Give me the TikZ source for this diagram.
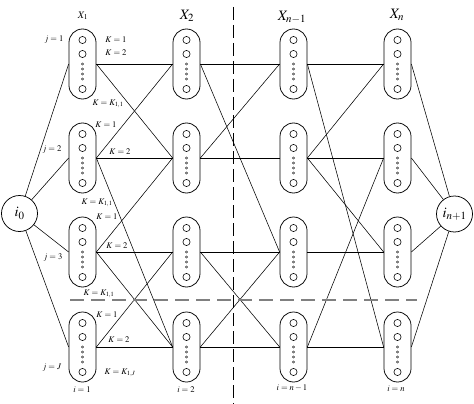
\documentclass[tikz,border=0pt]{standalone}
\usepackage{mathptmx}
\usepackage{tikz}

\begin{document}
\begin{tikzpicture}[x=1pt,y=-1pt,
 bag/.style={draw,rounded corners=13.5pt,minimum width=27pt,minimum height=70pt,
 inner sep=0pt,line width=0.75pt},
 term/.style={circle,draw,minimum size=36pt,inner sep=0pt,line width=0.75pt,font=\Large},
 lab/.style={inner sep=0pt,font=\fontsize{8.6}{10}\selectfont},
 head/.style={inner sep=0pt,font=\Large},
 every path/.style={line width=0.55pt}]
\useasboundingbox (0,0) rectangle (474,404);
\node[term] (i0) at (19.5,213.5) {$i_0$};
\node[term] (in) at (454.5,214) {$i_{n+1}$};
\node[bag] (a1) at (82.5,64) {};
\node[bag] (a2) at (82.5,158) {};
\node[bag] (a3) at (82.5,252) {};
\node[bag] (a4) at (82.5,347) {};
\node[bag] (b1) at (186.5,64) {};
\node[bag] (b2) at (186.5,158) {};
\node[bag] (b3) at (186.5,252) {};
\node[bag] (b4) at (186.5,347) {};
\node[bag] (c1) at (293.5,64) {};
\node[bag] (c2) at (293.5,158) {};
\node[bag] (c3) at (293.5,252) {};
\node[bag] (c4) at (293.5,347) {};
\node[bag] (d1) at (397.5,64) {};
\node[bag] (d2) at (397.5,158) {};
\node[bag] (d3) at (397.5,252) {};
\node[bag] (d4) at (397.5,347) {};
\foreach \n in {a1,a2,a3,a4,b1,b2,b3,b4,c1,c2,c3,c4,d1,d2,d3,d4}{
 \draw (\n.center) ++(0,-24) circle (3.6pt) ++(0,14) circle (3.6pt) ++(0,35) circle (3.6pt);
 \foreach \k in {0,5,10,15}{\draw[line width=0.45pt] (\n.center) ++(0,\k) circle (1.1pt);}
}
\node[head,font=\normalsize] (x1) at (83,16) {$X_1$};
\node[head] (x2) at (187,16) {$X_2$};
\node[head] (x3) at (292,17) {$X_{n-1}$};
\node[head] (x4) at (397,15) {$X_n$};
\node[lab] (j1) at (54,40) {$j=1$};
\node[lab] (j2) at (52,150) {$j=2$};
\node[lab] (j3) at (53,258) {$j=3$};
\node[lab] (j4) at (52,368) {$j=J$};
\node[lab] (k11) at (116,40) {$K=1$};
\node[lab] (k12) at (116,53) {$K=2$};
\node[lab] (k13) at (108,104) {$K=K_{1,1}$};
\node[lab] (k21) at (106,125) {$K=1$};
\node[lab] (k22) at (120,152) {$K=2$};
\node[lab] (k23) at (97,203) {$K=K_{1,1}$};
\node[lab] (k31) at (107,217) {$K=1$};
\node[lab] (k32) at (117,246) {$K=2$};
\node[lab] (k33) at (99,294) {$K=K_{1,1}$};
\node[lab] (k41) at (107,315) {$K=1$};
\node[lab] (k42) at (119,340) {$K=2$};
\node[lab] (k43) at (120,373) {$K=K_{1,J}$};
\node[lab] (s1) at (82,390) {$i=1$};
\node[lab] (s2) at (186,390) {$i=2$};
\node[lab] (s3) at (292,388) {$i=n-1$};
\node[lab] (s4) at (396,389) {$i=n$};
\foreach \v in {a1,a2,a3,a4}{\draw (i0)--(\v.west);}
\foreach \u in {d1,d2,d3,d4}{\draw (\u.east)--(in);}
\foreach \u/\v in {a1/b1,a1/b2,a2/b1,a2/b2,a2/b4,a3/b2,a3/b3,a3/b4,a4/b3,a4/b4,
b1/c1,b1/c3,b2/c1,b2/c2,b3/c3,b3/c4,b4/c3,b4/c4,
c1/d1,c1/d4,c2/d1,c2/d2,c2/d3,c3/d3,c4/d2,c4/d4}{\draw (\u.east)--(\v.west);}
\coordinate (vt) at (233,7);
\coordinate (vb) at (233,404);
\coordinate (hl) at (70,300);
\coordinate (hr) at (417,300);
\draw[dash pattern=on 13pt off 5pt,line width=0.8pt] (vt)--(vb);
\draw[gray,dash pattern=on 14pt off 7pt,line width=1.2pt] (hl)--(hr);
\end{tikzpicture}
\end{document}
